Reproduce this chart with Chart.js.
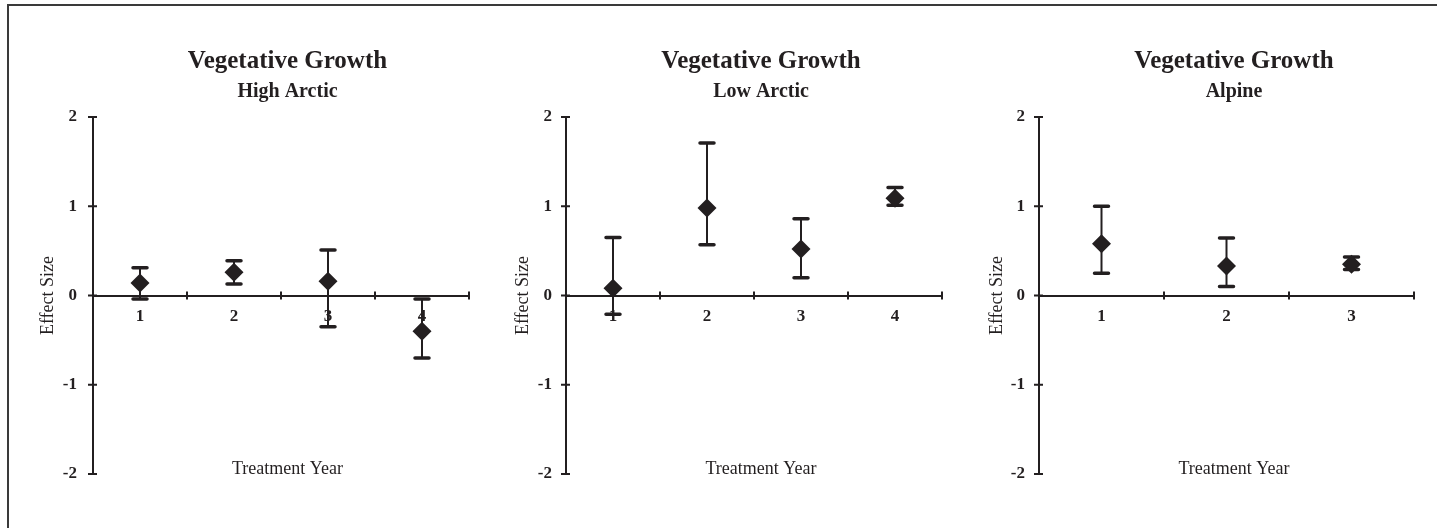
<!DOCTYPE html>
<html>
<head>
<meta charset="utf-8">
<script src="https://cdn.jsdelivr.net/npm/chart.js@4.4.0/dist/chart.umd.min.js"></script>
<style>
  html, body { margin: 0; padding: 0; background: #fff; overflow: hidden; }
  body { width: 1437px; height: 528px; position: relative; }
  #frame { position: absolute; left: 7px; top: 4px; width: 1440px; height: 530px;
           border-top: 2px solid #3a3a3a; border-left: 2px solid #3a3a3a; }
  .panel { position: absolute; top: 0; }
</style>
</head>
<body>
<div id="frame"></div>
<div class="panel" style="left:0px"><canvas id="high" width="545" height="528"></canvas></div>
<div class="panel" style="left:480px"><canvas id="low" width="539" height="528"></canvas></div>
<div class="panel" style="left:955px"><canvas id="alpine" width="537" height="528"></canvas></div>
<script>
// effect sizes (mean with upper / lower ends of the bars)
const highYears = ['1', '2', '3', '4']
const highMean = [0.14, 0.26, 0.16, -0.40]
const highUpper = [0.31, 0.39, 0.51, -0.04]
const highLower = [-0.04, 0.13, -0.35, -0.70]

const lowYears = ['1', '2', '3', '4']
const lowMean = [0.08, 0.98, 0.52, 1.09]
const lowUpper = [0.65, 1.71, 0.86, 1.21]
const lowLower = [-0.21, 0.57, 0.20, 1.01]

const alpineYears = ['1', '2', '3']
const alpineMean = [0.58, 0.33, 0.35]
const alpineUpper = [1.00, 0.645, 0.43]
const alpineLower = [0.25, 0.10, 0.29]

const yTicks = [-2, -1, 0, 1, 2]

const ink = '#231f20'
Chart.defaults.font.family = "'Liberation Serif', 'DejaVu Serif', serif"
Chart.defaults.color = ink

// whiskers + caps, drawn under the diamonds
const errorBars = {
  id: 'errorBars',
  beforeDatasetsDraw(chart) {
    const ctx = chart.ctx
    const ys = chart.scales.y
    chart.data.datasets.forEach((ds, di) => {
      const meta = chart.getDatasetMeta(di)
      meta.data.forEach((pt, i) => {
        const x = pt.x
        const top = ys.getPixelForValue(ds.errUpper[i])
        const bot = ys.getPixelForValue(ds.errLower[i])
        ctx.save()
        ctx.strokeStyle = ink
        ctx.lineWidth = 2
        ctx.beginPath()
        ctx.moveTo(x, top)
        ctx.lineTo(x, bot)
        ctx.stroke()
        ctx.lineWidth = 3.5
        ctx.lineCap = 'round'
        ctx.beginPath()
        ctx.moveTo(x - 7, top); ctx.lineTo(x + 7, top)
        ctx.moveTo(x - 7, bot); ctx.lineTo(x + 7, bot)
        ctx.stroke()
        ctx.restore()
      })
    })
  }
}

// small cross ticks on both axes + the x axis title sitting at the bottom
const axisMarks = {
  id: 'axisMarks',
  afterDraw(chart) {
    const ctx = chart.ctx
    const xs = chart.scales.x
    const ys = chart.scales.y
    const x0 = chart.chartArea.left
    const y0 = ys.getPixelForValue(0)
    ctx.save()
    ctx.strokeStyle = ink
    ctx.lineWidth = 2
    ctx.beginPath()
    yTicks.forEach(v => {
      const y = ys.getPixelForValue(v)
      ctx.moveTo(x0 - 5, y); ctx.lineTo(x0 + 4, y)
    })
    for (let i = 1; i <= chart.data.labels.length; i++) {
      const x = xs.getPixelForValue(i - 0.5)
      ctx.moveTo(x, y0 - 4); ctx.lineTo(x, y0 + 4)
    }
    ctx.stroke()

    const tb = chart.titleBlock
    ctx.fillStyle = ink
    ctx.font = "18px 'Liberation Serif', serif"
    ctx.textAlign = 'center'
    ctx.textBaseline = 'middle'
    ctx.fillText('Treatment Year', (tb.left + tb.right) / 2, ys.getPixelForValue(-2) - 5)
    ctx.restore()
  }
}

function makePanel(id, region, labels, mean, upper, lower, lay) {
  return new Chart(document.getElementById(id), {
    type: 'line',
    data: {
      labels: labels,
      datasets: [{
        data: mean,
        errUpper: upper,
        errLower: lower,
        showLine: false,
        pointStyle: 'rectRot',
        pointRadius: 9.5,
        pointBorderWidth: 0,
        pointBackgroundColor: ink,
        borderColor: ink
      }]
    },
    options: {
      responsive: false,
      animation: false,
      events: [],
      layout: { padding: { left: lay.padL, right: 3, top: 0, bottom: 54 } },
      plugins: {
        legend: { display: false },
        tooltip: { enabled: false },
        title: {
          display: true,
          text: 'Vegetative Growth',
          color: ink,
          font: { size: 25, weight: 'bold' },
          padding: { top: 46.5, bottom: 0 }
        },
        subtitle: {
          display: true,
          text: region,
          color: ink,
          font: { size: 20, weight: 'bold' },
          padding: { top: 3.7, bottom: 12.8 }
        }
      },
      scales: {
        x: {
          type: 'category',
          offset: true,
          position: { y: 0 },
          grid: { display: false, drawTicks: false },
          border: { color: ink, width: 2 },
          ticks: { font: { size: 17, weight: 'bold' }, color: ink, padding: 11 },
          afterFit: s => { s.height = 0 }
        },
        y: {
          min: -2,
          max: 2,
          position: 'left',
          grid: { display: false, drawTicks: false },
          border: { color: ink, width: 2 },
          ticks: { stepSize: 1, font: { size: 17, weight: 'bold' }, color: ink, padding: lay.tickPad },
          title: {
            display: true,
            text: 'Effect Size',
            color: ink,
            font: { size: 18 },
            padding: { top: lay.titlePad, bottom: 0 }
          },
          afterFit: s => { s.width = 60 }
        },
        // empty right box so the titles centre like the original
        yR: {
          type: 'linear',
          position: 'right',
          grid: { display: false, drawTicks: false },
          border: { display: false },
          ticks: { display: false },
          afterFit: s => { s.width = lay.rightW }
        }
      }
    },
    plugins: [errorBars, axisMarks]
  })
}

makePanel('high', 'High Arctic', highYears, highMean, highUpper, highLower,
  { padL: 33, rightW: 73, tickPad: 16, titlePad: 4.2 })
makePanel('low', 'Low Arctic', lowYears, lowMean, lowUpper, lowLower,
  { padL: 26, rightW: 74, tickPad: 14, titlePad: 6.2 })
makePanel('alpine', 'Alpine', alpineYears, alpineMean, alpineUpper, alpineLower,
  { padL: 24, rightW: 75, tickPad: 14, titlePad: 7.2 })
</script>
</body>
</html>
